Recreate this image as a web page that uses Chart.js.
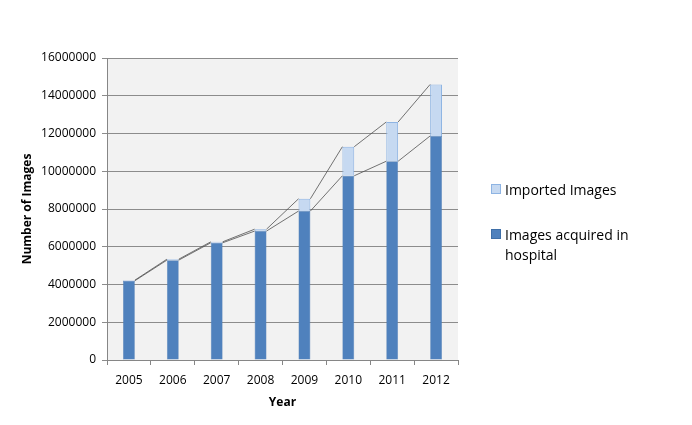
<!DOCTYPE html>
<html>
<head>
<meta charset="utf-8">
<script src="https://cdn.jsdelivr.net/npm/chart.js@4"></script>
<style>
  body { margin: 0; background: #fff; }
  #wrap { position: relative; width: 692px; height: 425px; }
  .leg { position: absolute; font-family: "Open Sans", sans-serif; font-size: 14px; color: #000; line-height: 20px; }
  .leg span.sw { position: absolute; left: 0; top: 4px; width: 10px; height: 10px; }
</style>
</head>
<body>
<div id="wrap">
  <canvas id="chart" width="692" height="425"></canvas>
  <div class="leg" style="left:491px; top:180px; padding-left:14px;"><span class="sw" style="background:#c6d9f1;border:1px solid #8eb4e3;width:8px;height:8px;"></span>Imported Images</div>
  <div class="leg" style="left:491px; top:225px; padding-left:14px; width:170px;"><span class="sw" style="background:#4f81bd;border:1px solid #3f6fa8;width:8px;height:8px;"></span>Images acquired in hospital</div>
</div>
<script>
// ---------------- DATA ----------------
const years = ["2005", "2006", "2007", "2008", "2009", "2010", "2011", "2012"];
const hospital = [4200000, 5290000, 6210000, 6830000, 7890000, 9760000, 10530000, 11870000];
const imported = [30000, 50000, 50000, 100000, 650000, 1540000, 2080000, 2730000];

// gray plot background
const plotBg = {
  id: "plotBg",
  beforeDraw(chart) {
    const { ctx, chartArea: a } = chart;
    ctx.save();
    ctx.fillStyle = "#f2f2f2";
    ctx.fillRect(a.left, a.top, a.right - a.left, a.bottom - a.top);
    ctx.restore();
  }
};

// excel-like series lines between stacked bar tops
const seriesLines = {
  id: "seriesLines",
  afterDatasetsDraw(chart) {
    const ctx = chart.ctx;
    ctx.save();
    ctx.strokeStyle = "#505050";
    ctx.lineWidth = 0.8;
    chart.data.datasets.forEach((ds, i) => {
      const bars = chart.getDatasetMeta(i).data;
      for (let j = 0; j < bars.length - 1; j++) {
        const a = bars[j], b = bars[j + 1];
        ctx.beginPath();
        ctx.moveTo(a.x + a.width / 2, a.y);
        ctx.lineTo(b.x - b.width / 2, b.y);
        ctx.stroke();
      }
    });
    ctx.restore();
  }
};

const font = { family: "'Open Sans', sans-serif", size: 12 };

new Chart(document.getElementById("chart").getContext("2d"), {
  type: "bar",
  data: {
    labels: years,
    datasets: [
      {
        label: "Images acquired in hospital",
        data: hospital,
        backgroundColor: "#4f81bd",
        borderColor: "#4a78b0",
        borderWidth: 0.5,
        barPercentage: 0.27,
        categoryPercentage: 1
      },
      {
        label: "Imported Images",
        data: imported,
        backgroundColor: "#c6d9f1",
        borderColor: "#8eb4e3",
        borderWidth: 1,
        barPercentage: 0.27,
        categoryPercentage: 1
      }
    ]
  },
  options: {
    responsive: false,
    animation: false,
    layout: { padding: { left: 20, top: 58, right: 234, bottom: 11 } },
    plugins: { legend: { display: false }, tooltip: { enabled: false } },
    scales: {
      x: {
        stacked: true,
        afterFit: s => { s.height = 54; },
        grid: { offset: true, drawOnChartArea: false, tickLength: 5, color: "#868686" },
        border: { color: "#868686" },
        ticks: { color: "#000", font: font, padding: 8 },
        title: { display: true, text: "Year", color: "#000", font: { family: font.family, size: 12, weight: "bold" }, padding: { top: 2 } }
      },
      y: {
        stacked: true,
        min: 0,
        max: 16000000,
        afterFit: s => { s.width = 87; },
        grid: { color: "#8c8c8c", tickLength: 5 },
        border: { color: "#868686" },
        ticks: { stepSize: 2000000, color: "#000", font: font, padding: 6, callback: v => String(v) },
        title: { display: true, text: "Number of Images", color: "#000", font: { family: font.family, size: 12, weight: "bold" }, padding: 0 }
      }
    }
  },
  plugins: [plotBg, seriesLines]
});
</script>
</body>
</html>
